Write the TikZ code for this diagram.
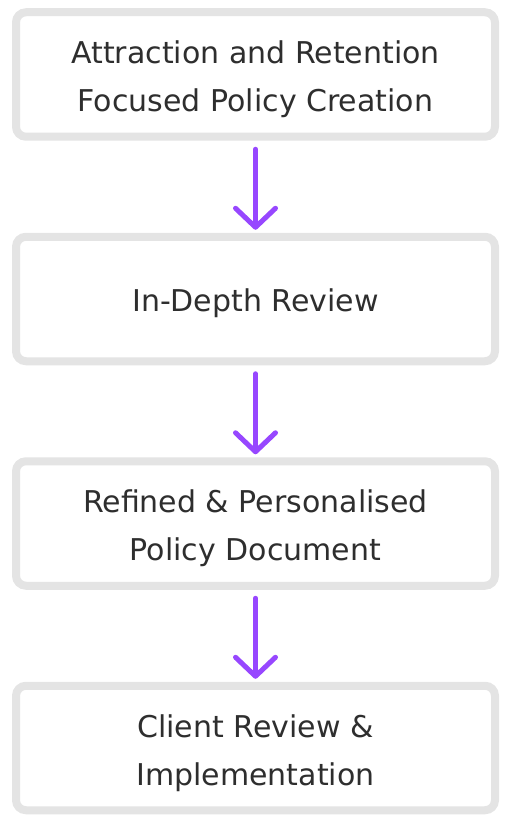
\documentclass[tikz,border=0pt]{standalone}
\usepackage{fontspec}
\setmainfont{DejaVu Sans}
\usetikzlibrary{arrows.meta}
\definecolor{boxgray}{HTML}{E4E4E4}
\definecolor{txtgray}{HTML}{2E2E2E}
\definecolor{arrpurple}{HTML}{9747FF}
\tikzset{
  stepbox/.style={draw=boxgray, line width=8pt, rounded corners=10pt, fill=white,
    minimum width=479pt, minimum height=124.5pt, outer sep=0pt, inner sep=0pt},
  steptext/.style={text=txtgray, align=center, inner sep=0pt,
    font=\fontsize{30pt}{48pt}\selectfont},
  flowarrow/.style={draw=arrpurple, line width=5pt, line cap=round,
    -{Straight Barb[length=19pt,width=40pt,round]}}
}
\begin{document}
\begin{tikzpicture}[x=1pt,y=-1pt]
\useasboundingbox (0,0) rectangle (509,826);
\node[stepbox] (b1) at (255.5,74.5) {};
\node[stepbox] (b2) at (255.5,299) {};
\node[stepbox] (b3) at (255.5,523.5) {};
\node[stepbox] (b4) at (255.5,748) {};
\node[steptext] (t1) at ([yshift=-5pt]b1.center) {Attraction and Retention\\Focused Policy Creation};
\node[steptext] (t2) at ([yshift=-4pt]b2.center) {In-Depth Review};
\node[steptext] (t3) at ([yshift=-5pt]b3.center) {Refined \& Personalised\\Policy Document};
\node[steptext] (t4) at ([yshift=-5pt]b4.center) {Client Review \&\\Implementation};
\draw[flowarrow] ([yshift=-12.5pt]b1.south) -- ([yshift=7pt]b2.north);
\draw[flowarrow] ([yshift=-12.5pt]b2.south) -- ([yshift=7pt]b3.north);
\draw[flowarrow] ([yshift=-12.5pt]b3.south) -- ([yshift=7pt]b4.north);
\end{tikzpicture}
\end{document}
